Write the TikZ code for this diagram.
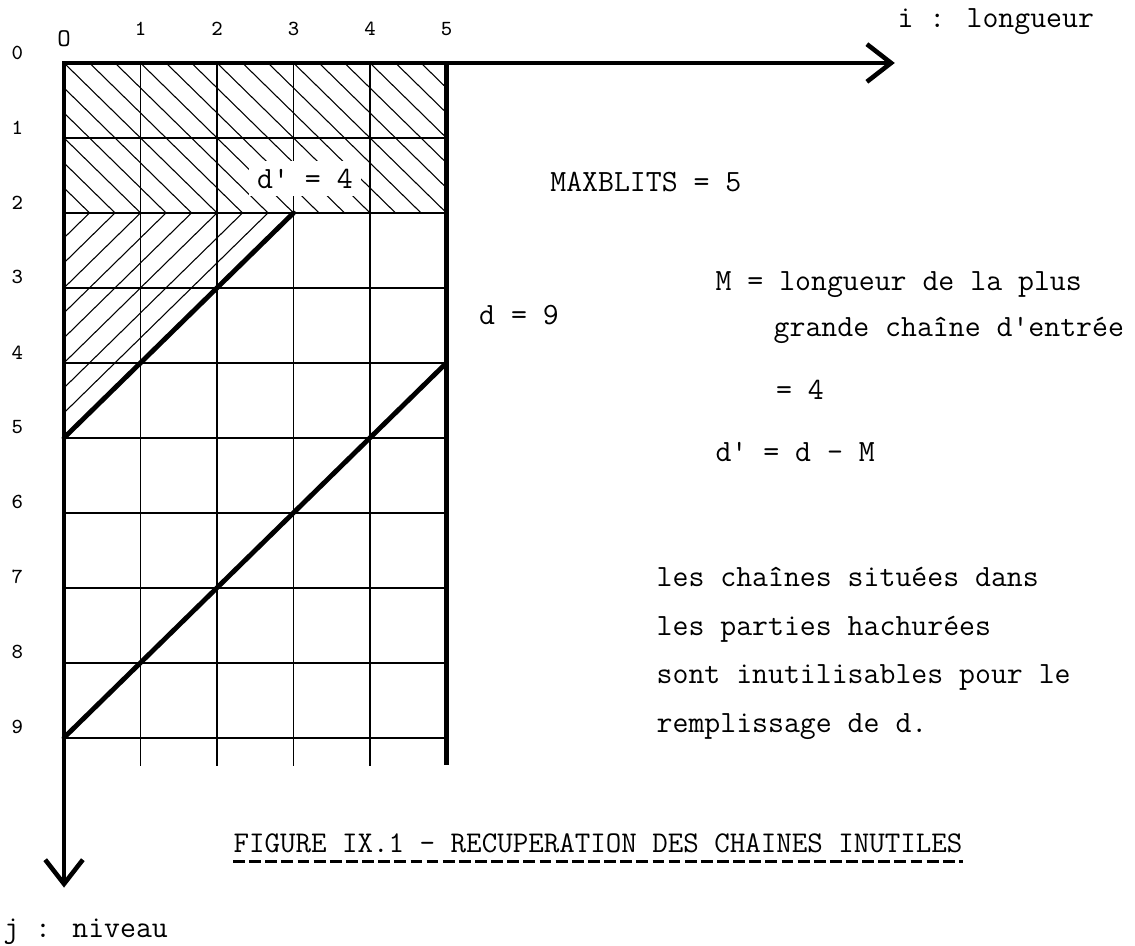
\documentclass[tikz,border=0pt]{standalone}
\usepackage{tikz}
\usetikzlibrary{positioning, arrows.meta, calc}
\tikzset{
    axis/.style={line width=1.7pt, line cap=rect, -{Straight Barb[length=9pt, width=14pt]}},
    border/.style={line width=1.7pt, line cap=rect},
    gridline/.style={line width=0.7pt},
    hatch/.style={line width=0.4pt},
    chain/.style={line width=1.8pt, line cap=round},
}

\begin{document}
\begin{tikzpicture}[x=1cm, y=-0.98cm,
    txt/.style={font=\ttfamily\fontsize{11.5}{14}\selectfont, inner sep=0pt, anchor=base west},
    caption/.style={font=\ttfamily\fontsize{11.2}{14}\selectfont, inner sep=0pt, anchor=base west},
    lbl/.style={font=\ttfamily\fontsize{8}{9}\selectfont, inner sep=0pt},
    underl/.style={line width=0.8pt, dash pattern=on 4.4pt off 1.6pt}
]
    \useasboundingbox (-0.837,-0.84) rectangle (14.0,11.773);

    % parties hachurees
    \begin{scope}
        \clip (0,0) rectangle (5,2);
        \foreach \k in {0,...,21}
            \draw[hatch] ({\k/3-2},0) -- ({\k/3},2);
    \end{scope}
    \begin{scope}
        \clip (0,2) -- (3,2) -- (0,5) -- cycle;
        \foreach \k in {1,...,9}
            \draw[hatch] ({\k/3},2) -- ({\k/3-3},5);
    \end{scope}

    % quadrillage
    \foreach \j in {1,...,9}
        \draw[gridline] (0,\j) -- (5,\j);
    \foreach \i in {1,...,4}
        \draw[gridline] (\i,0) -- (\i,9.38);
    \draw[border] (5,0) -- (5,9.33);

    % axes
    \coordinate (O) at (0,0);
    \coordinate (iEnd) at (10.86,0);
    \coordinate (jEnd) at (0,11.0);
    \draw[axis] (O) -- (iEnd);
    \draw[axis] (O) -- (jEnd);

    % chaines
    \coordinate (a5) at (0,5);
    \coordinate (a2) at (3,2);
    \coordinate (b9) at (0,9);
    \coordinate (b4) at (5,4);
    \draw[chain] (a5) -- (a2);
    \draw[chain] (b9) -- (b4);

    % graduations
    \node[lbl, font=\ttfamily\fontsize{9.5}{10}\selectfont] (c0) at (0,-0.33) {O};
    \foreach \i in {1,...,5}
        \node[lbl] (c\i) at (\i,-0.45) {\i};
    \foreach \j in {0,...,9}
        \node[lbl] (r\j) at (-0.61,{\j-0.14}) {\j};

    \node[txt] (ilab) at (10.89,-0.467) {i : longueur};
    \node[txt, anchor=base, fill=white, inner sep=3pt] (dprime) at (3.15,1.67) {d' = 4};

    \node[txt] (maxb) at (6.35,1.72) {MAXBLITS = 5};
    \node[txt] (dval) at (5.42,3.49) {d = 9};
    \node[txt] (mdef1) at (8.51,3.03) {M = longueur de la plus};
    \node[txt] (mdef2) at (9.27,3.65) {grande chaîne d'entrée};
    \node[txt] (mdef3) at (9.30,4.49) {= 4};
    \node[txt] (ddef) at (8.51,5.32) {d' = d - M};

    \node[txt] (rem1) at (7.74,6.99) {les chaînes situées dans};
    \node[txt] (rem2) at ([yshift=-0.634cm]rem1.base west) {les parties hachurées};
    \node[txt] (rem3) at ([yshift=-0.634cm]rem2.base west) {sont inutilisables pour le};
    \node[txt] (rem4) at ([yshift=-0.634cm]rem3.base west) {remplissage de d.};

    \node[caption] (fig) at (2.21,10.53) {FIGURE IX.1 - RECUPERATION DES CHAINES INUTILES};
    \draw[underl] ([yshift=-3.4pt]fig.base west) -- ([yshift=-3.4pt]fig.base east);

    \node[txt] (jlab) at (-0.80,11.67) {j : niveau};
\end{tikzpicture}
\end{document}
